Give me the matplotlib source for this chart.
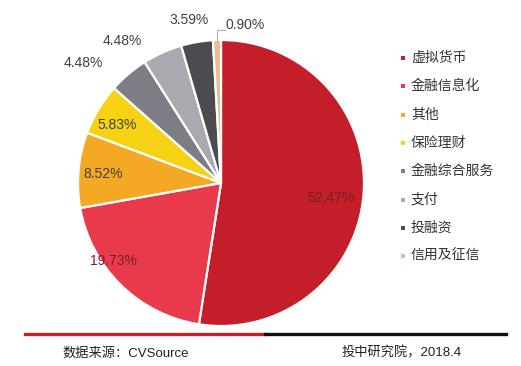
import numpy as np
import matplotlib
matplotlib.use("Agg")
import matplotlib.pyplot as plt

categories = ["虚拟货币", "金融信息化", "其他", "保险理财", "金融综合服务", "支付", "投融资", "信用及征信"]
values = [52.47, 19.73, 8.52, 5.83, 4.48, 4.48, 3.59, 0.90]
labels = ["52.47%", "19.73%", "8.52%", "5.83%", "4.48%", "4.48%", "3.59%", "0.90%"]
colors = ["#C41E2A", "#E83A4B", "#F5A823", "#F5D314", "#7D7D85", "#A9A9AF", "#4B4B50", "#E6C08E"]
label_colors = ["#6E2228", "#7A1E2C", "#404040", "#404040", "#404040", "#404040", "#404040", "#404040"]
# label placement: (radius factor, angle nudge in degrees)
label_pos = [(0.78, -3.5), (0.93, -9.5), (0.83, 1.0), (0.83, 2.0), (1.28, 8.5), (1.21, 10.5), (1.16, 1.5), (None, None)]

source_text = "数据来源：CVSource"
org_text = "投中研究院，2018.4"

W, H = 521, 366
fig = plt.figure(figsize=(W / 100, H / 100), dpi=100)
fig.patch.set_facecolor("white")

cx, cy, R = 221, 183, 143
ax = fig.add_axes([(cx - R) / W, (H - cy - R) / H, 2 * R / W, 2 * R / H])

wedges, _ = ax.pie(values, colors=colors, startangle=90, counterclock=False, radius=1.0,
                   wedgeprops=dict(edgecolor="white", linewidth=1.6))
ax.set_xlim(-1, 1)
ax.set_ylim(-1, 1)
ax.set_aspect("equal")
ax.axis("off")

for w, lab, lc, (rf, nud) in zip(wedges, labels, label_colors, label_pos):
    mid = (w.theta1 + w.theta2) / 2.0
    if rf is None:
        a = np.deg2rad(mid)
        x0, y0 = np.cos(a) * 1.0, np.sin(a) * 1.0
        x1, y1 = x0, y0 + 0.07
        x2 = x1 + 0.055
        ax.plot([x0, x1, x2], [y0 - 0.01, y1, y1], color="#B0B0B0", lw=0.8, clip_on=False)
        ax.text(x2 + 0.005, y1 + 0.035, lab, ha="left", va="center", fontsize=10,
                family="Liberation Sans", color=lc, clip_on=False)
        continue
    a = np.deg2rad(mid + nud)
    ax.text(np.cos(a) * rf, np.sin(a) * rf, lab, ha="center", va="center", fontsize=10,
            family="Liberation Sans", color=lc, clip_on=False)

# legend (manual)
ly0, ldy = 58, 28.3
for i, (c, name) in enumerate(zip(colors, categories)):
    y = 1 - (ly0 + i * ldy) / H
    fig.patches.append(plt.Rectangle((401 / W, y - 2 / H), 4 / W, 4 / H, transform=fig.transFigure,
                                     facecolor=c, edgecolor="none"))
    fig.text(411 / W, y, name, ha="left", va="center", fontsize=10,
             family=["Noto Sans CJK SC", "DejaVu Sans"], color="#333333")

# bottom rule
yl = 1 - 334 / H
fig.add_artist(plt.Line2D([25 / W, 265 / W], [yl, yl], color="#C8202A", lw=2.4, transform=fig.transFigure))
fig.add_artist(plt.Line2D([265 / W, 506 / W], [yl, yl], color="#111111", lw=2.4, transform=fig.transFigure))

fig.text(62 / W, 1 - 353 / H, source_text, ha="left", va="center", fontsize=9.5,
         family=["Liberation Sans", "Noto Sans CJK SC"], color="#222222")
fig.text(342 / W, 1 - 353 / H, org_text, ha="left", va="center", fontsize=9.5,
         family=["Liberation Sans", "Noto Sans CJK SC"], color="#222222")

fig.savefig("out.png", dpi=100, facecolor="white")
